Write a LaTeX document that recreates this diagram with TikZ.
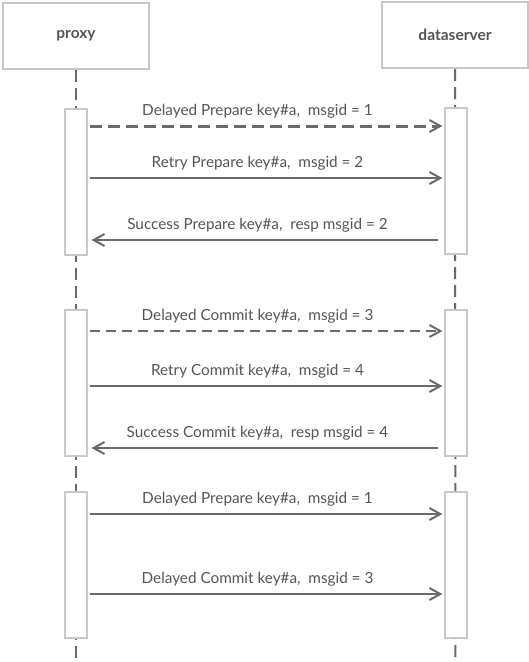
\documentclass[tikz,border=0pt]{standalone}
\usepackage{fontspec}
\setmainfont{Lato}
\usepackage{xcolor}
\usetikzlibrary{arrows.meta, positioning}

\definecolor{boxline}{HTML}{C5C9CA}
\definecolor{msgline}{HTML}{6A6A6A}
\definecolor{msgtext}{HTML}{555555}

\begin{document}
\begin{tikzpicture}[
  x=1pt, y=-1pt,
  head/.style={
    rectangle,
    draw=boxline,
    line width=2pt,
    fill=white,
    minimum width=146pt,
    minimum height=66pt,
    font=\fontsize{15.5}{18}\selectfont\bfseries,
    text=msgtext
  },
  act/.style={
    rectangle,
    draw=boxline,
    line width=2pt,
    fill=white,
    minimum width=22pt,
    minimum height=146pt,
    inner sep=0pt
  },
  life/.style={
    draw=msgline,
    line width=2pt,
    dash pattern=on 12pt off 6pt
  },
  msg/.style={
    -{Straight Barb[length=11pt, width=12pt, line width=2pt]},
    line width=2pt,
    draw=msgline,
    shorten <=2pt,
    shorten >=1pt
  },
  reply/.style={
    msg,
    shorten <=6pt,
    shorten >=4pt
  },
  dashmsg/.style={
    msg,
    dash pattern=on 10pt off 6pt
  },
  label/.style={
    above=3pt,
    midway,
    xshift=-8pt,
    font=\fontsize{15.3}{18}\selectfont,
    text=msgtext
  }
]
\useasboundingbox (0,0) rectangle (529,662);

% Lifeline heads
\node[head] (proxy) at (76,36) {proxy};
\node[head] (dserver) at (455,35) {dataserver};

% Lifelines
\coordinate (pend) at (76,662);
\coordinate (dend) at (455.5,662);
\draw[life] (proxy.south) -- (pend);
\draw[life] (dserver.south) -- (dend);

% Activation boxes
\node[act] (pa1) at (75.5,182) {};
\node[act] (da1) at (455.5,181) {};
\node[act] (pa2) at (75.5,383) {};
\node[act] (da2) at (455.5,383) {};
\node[act] (pa3) at (75.5,565) {};
\node[act] (da3) at (455.5,565) {};

% Prepare round
\draw[dashmsg, line width=3pt, dash pattern=on 12pt off 6pt] (pa1.east |- 0,126) -- (da1.west |- 0,126)
  node[label] {Delayed Prepare key\#a,\ \ msgid = 1};
\draw[msg] (pa1.east |- 0,178) -- (da1.west |- 0,178)
  node[label] {Retry Prepare key\#a,\ \ msgid = 2};
\draw[reply] (da1.west |- 0,240) -- (pa1.east |- 0,240)
  node[label] {Success Prepare key\#a,\ \ resp msgid = 2};

% Commit round
\draw[dashmsg] (pa2.east |- 0,331) -- (da2.west |- 0,331)
  node[label] {Delayed Commit key\#a,\ \ msgid = 3};
\draw[msg] (pa2.east |- 0,386) -- (da2.west |- 0,386)
  node[label] {Retry Commit key\#a,\ \ msgid = 4};
\draw[reply] (da2.west |- 0,448) -- (pa2.east |- 0,448)
  node[label] {Success Commit key\#a,\ \ resp msgid = 4};

% Delayed messages arrive
\draw[msg] (pa3.east |- 0,514) -- (da3.west |- 0,514)
  node[label] {Delayed Prepare key\#a,\ \ msgid = 1};
\draw[msg] (pa3.east |- 0,594) -- (da3.west |- 0,594)
  node[label] {Delayed Commit key\#a,\ \ msgid = 3};
\end{tikzpicture}
\end{document}
